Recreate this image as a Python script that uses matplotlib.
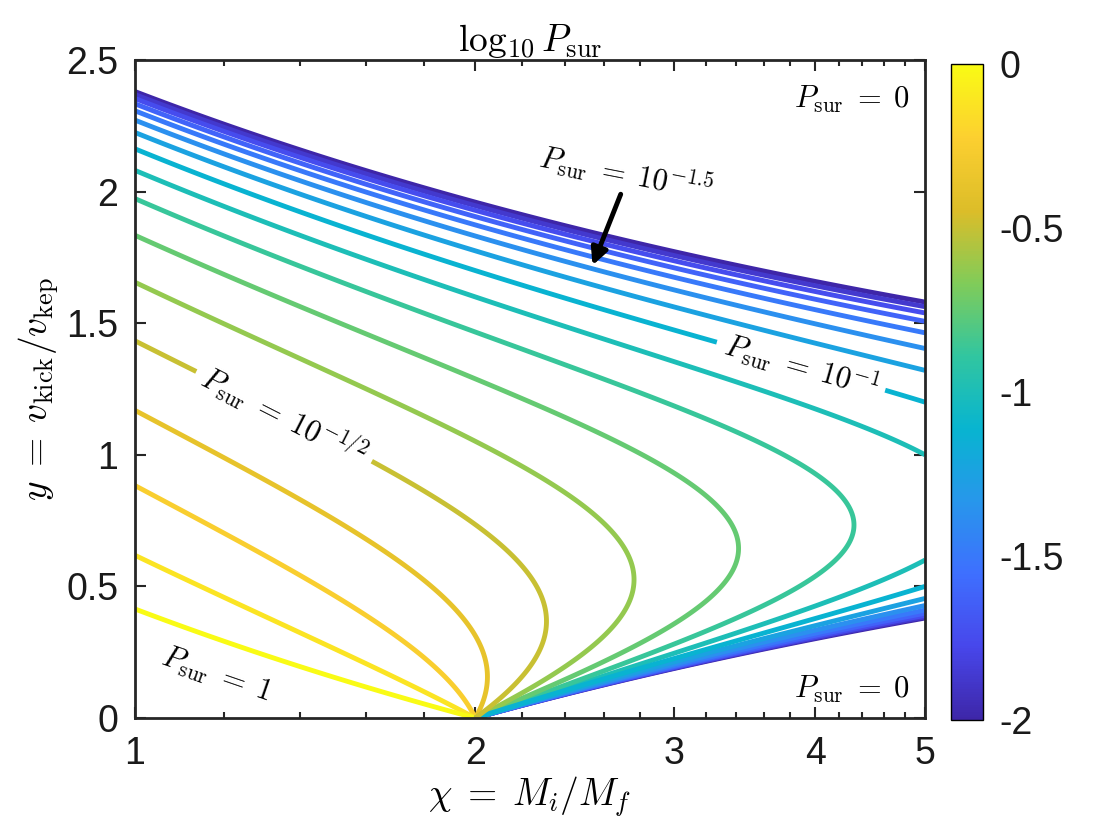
import numpy as np
import matplotlib
matplotlib.use("Agg")
import matplotlib.pyplot as plt
from matplotlib.colors import LinearSegmentedColormap, Normalize
from matplotlib.cm import ScalarMappable
from matplotlib.ticker import FixedLocator, NullFormatter

plt.rcParams['font.family'] = ['Liberation Sans', 'DejaVu Sans']
plt.rcParams['mathtext.fontset'] = 'cm'

# contour levels of log10 P_sur
levels = [-2.0, -1.875, -1.75, -1.625, -1.5, -1.375, -1.25, -1.125, -1.0,
          -0.875, -0.75, -0.625, -0.5, -0.375, -0.25, -0.125, 0.0]
labelled_levels = [-1.125, -0.5]   # contours that carry inline labels
xticks = [1, 2, 3, 4, 5]
xtick_labels = ['1', '2', '3', '4', '5']
xminor = [1.2, 1.4, 1.6, 1.8, 2.2, 2.4, 2.6, 2.8, 3.2, 3.4, 3.6, 3.8,
          4.2, 4.4, 4.6, 4.8]
yticks = [0, 0.5, 1, 1.5, 2, 2.5]
ytick_labels = ['0', '0.5', '1', '1.5', '2', '2.5']
cbar_ticks = [-2, -1.5, -1, -0.5, 0]
cbar_labels = ['-2', '-1.5', '-1', '-0.5', '0']

# parula-like colormap
parula = LinearSegmentedColormap.from_list('parula', [
    (0.2422, 0.1504, 0.6603), (0.2803, 0.2782, 0.9221),
    (0.2440, 0.4358, 0.9988), (0.1540, 0.5902, 0.9218),
    (0.0297, 0.7082, 0.8163), (0.1938, 0.7758, 0.6251),
    (0.5044, 0.7993, 0.3480), (0.8634, 0.7406, 0.1596),
    (0.9892, 0.8136, 0.1885), (0.9769, 0.9839, 0.0805)])
norm = Normalize(-2, 0)

# survival probability for isotropic kick after mass loss chi = Mi/Mf
chi = np.geomspace(1, 5, 2000)
yk = np.linspace(0.0005, 2.5, 2000)
C, Y = np.meshgrid(chi, yk)
P = (2.0 / C - (1 - Y) ** 2) / (4 * Y)
logP = np.where(P > 0, np.log10(np.clip(P, 1e-12, None)), -10)

fig = plt.figure(figsize=(11.2, 8.4), dpi=100)
ax = fig.add_axes([135 / 1120, 1 - 718 / 840, 790 / 1120, 658 / 840])
plain = [l for l in levels if l not in labelled_levels]
ax.contour(C, Y, logP, levels=plain, cmap=parula, norm=norm, linewidths=3.5)
cs2 = ax.contour(C, Y, logP, levels=labelled_levels, cmap=parula, norm=norm,
                 linewidths=3.5)
ax.set_xscale('log')
ax.set_xlim(1, 5)
ax.set_ylim(0, 2.5)

ax.clabel(cs2, inline=True, inline_spacing=8, colors='k', fontsize=22,
          fmt={-0.5: r'$P_{\rm sur}\;=\;10^{-1/2}$',
               -1.125: r'$P_{\rm sur}\;=\;10^{-1}$'},
          manual=[(1.36, 1.16), (3.88, 1.33)])

ax.xaxis.set_major_locator(FixedLocator(xticks))
ax.set_xticklabels(xtick_labels)
ax.xaxis.set_minor_locator(FixedLocator(xminor))
ax.xaxis.set_minor_formatter(NullFormatter())
ax.set_yticks(yticks)
ax.set_yticklabels(ytick_labels)
ax.tick_params(which='both', direction='in', top=True, right=True,
               labelsize=27, width=1.5, color='0.15', labelcolor='0.1')
ax.tick_params(axis='x', pad=13)
ax.tick_params(axis='y', pad=12)
ax.tick_params(which='major', length=8)
ax.tick_params(which='minor', length=4)
for s in ax.spines.values():
    s.set_linewidth(2)
    s.set_color('0.15')

ax.set_xlabel(r'$\chi\;=\;M_i/M_f$', fontsize=27, labelpad=2)
ax.set_ylabel(r'$y\;=\;v_{\rm kick}/v_{\rm kep}$', fontsize=27, labelpad=4)
ax.set_title(r'$\log_{10} P_{\rm sur}$', fontsize=27, pad=6)

ax.text(4.85, 2.35, r'$P_{\rm sur}\;=\;0$', fontsize=22, ha='right', va='center')
ax.text(4.85, 0.11, r'$P_{\rm sur}\;=\;0$', fontsize=22, ha='right', va='center')
ax.text(1.18, 0.165, r'$P_{\rm sur}\;=\;1$', fontsize=22, ha='center',
        va='center', rotation=-19, rotation_mode='anchor')
ax.text(2.72, 2.07, r'$P_{\rm sur}\;=\;10^{-1.5}$', fontsize=22, ha='center',
        va='center', rotation=-11, rotation_mode='anchor')
ax.annotate('', xy=(2.54, 1.72), xytext=(2.69, 1.99),
            arrowprops=dict(arrowstyle='-|>', color='k', lw=3.5,
                            mutation_scale=25, shrinkA=0, shrinkB=0))

cax = fig.add_axes([951 / 1120, 1 - 720 / 840, 32 / 1120, 656 / 840])
cb = fig.colorbar(ScalarMappable(norm=norm, cmap=parula), cax=cax)
cb.set_ticks(cbar_ticks)
cb.set_ticklabels(cbar_labels)
cb.ax.tick_params(labelsize=27, direction='in', length=0, pad=12,
                  labelcolor='0.1')
cb.outline.set_linewidth(1)

fig.savefig('out.png', dpi=100)
